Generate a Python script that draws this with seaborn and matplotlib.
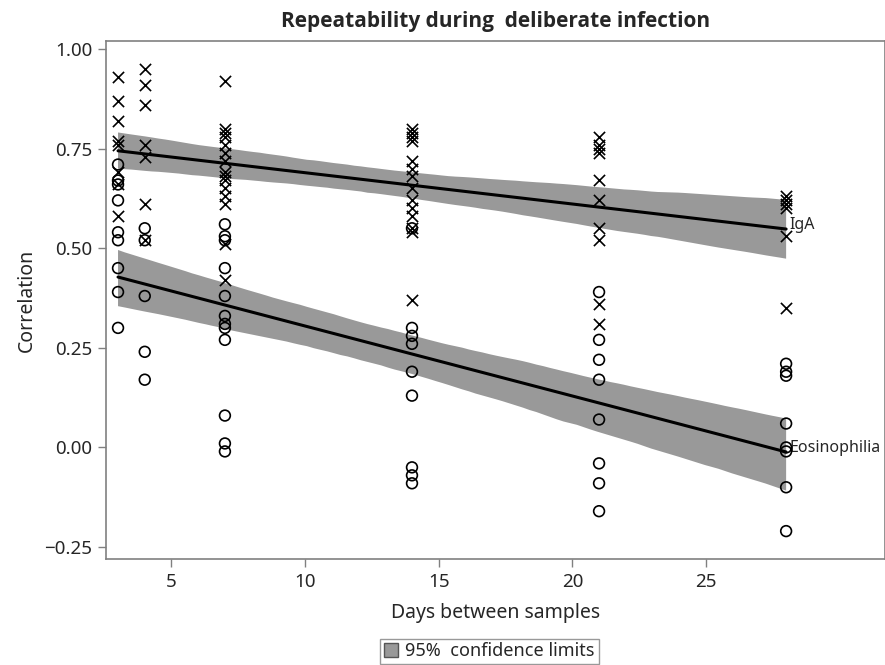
import numpy as np
import pandas as pd
import seaborn as sns
import matplotlib.pyplot as plt
from matplotlib.patches import Patch

# valores: correlacion por dias entre muestras
dias = [3, 4, 7, 14, 21, 28]
iga = {
    3: [0.93, 0.87, 0.82, 0.77, 0.76, 0.69, 0.66, 0.58],
    4: [0.95, 0.91, 0.86, 0.76, 0.73, 0.61, 0.52],
    7: [0.92, 0.80, 0.79, 0.78, 0.76, 0.74, 0.72, 0.69, 0.68, 0.67, 0.65, 0.63, 0.61, 0.51, 0.42],
    14: [0.80, 0.79, 0.78, 0.77, 0.72, 0.70, 0.68, 0.65, 0.62, 0.60, 0.58, 0.55, 0.54, 0.37],
    21: [0.78, 0.76, 0.75, 0.74, 0.67, 0.62, 0.55, 0.52, 0.36, 0.31],
    28: [0.63, 0.62, 0.61, 0.60, 0.53, 0.35],
}
eos = {
    3: [0.71, 0.67, 0.66, 0.62, 0.54, 0.52, 0.45, 0.39, 0.30],
    4: [0.55, 0.52, 0.38, 0.24, 0.17],
    7: [0.56, 0.53, 0.52, 0.45, 0.38, 0.33, 0.31, 0.30, 0.27, 0.08, 0.01, -0.01],
    14: [0.55, 0.30, 0.28, 0.26, 0.19, 0.13, -0.05, -0.07, -0.09],
    21: [0.39, 0.27, 0.22, 0.17, 0.07, -0.04, -0.09, -0.16],
    28: [0.21, 0.19, 0.18, 0.06, 0.00, -0.01, -0.10, -0.21],
}
xticks = [5, 10, 15, 20, 25]
yticks = [-0.25, 0.0, 0.25, 0.5, 0.75, 1.0]


def a_tabla(d):
    filas = [(k, v) for k in dias for v in d[k]]
    return pd.DataFrame(filas, columns=['dias', 'corr'])


df_iga = a_tabla(iga)
df_eos = a_tabla(eos)

sns.set_style('white')
plt.rcParams['font.family'] = ['Noto Sans', 'DejaVu Sans']

fig = plt.figure(figsize=(8.85, 6.65), dpi=100)
ax = fig.add_axes([106 / 885, 1 - 559 / 665, 779 / 885, 518 / 665])

gris = '#999999'
for df, nombre in [(df_iga, 'IgA'), (df_eos, 'Eosinophilia')]:
    n = len(ax.collections)
    sns.regplot(data=df, x='dias', y='corr', scatter=False, ci=95, seed=1,
                color='black', line_kws={'lw': 2.2}, ax=ax)
    for c in ax.collections[n:]:
        c.set_facecolor(gris)
        c.set_alpha(1)
        c.set_edgecolor('none')
    linea = ax.lines[-1]
    xs, ys = linea.get_data()
    ax.text(xs[-1] + 0.12, ys[-1] + 0.01, nombre, fontsize=11.5, va='center', ha='left')

sns.scatterplot(data=df_iga, x='dias', y='corr', marker='x', color='black',
                s=65, linewidth=1.2, ax=ax, zorder=5)
sns.scatterplot(data=df_eos, x='dias', y='corr', marker='o', facecolor='none',
                edgecolor='black', s=60, linewidth=1.2, ax=ax, zorder=5)

ax.set_xlim(2.55, 31.7)
ax.set_ylim(-0.28, 1.02)
ax.set_xticks(xticks)
ax.set_yticks(yticks)
ax.set_yticklabels([f'{v:.2f}'.replace('-', '\u2212') for v in yticks])
ax.tick_params(axis='both', direction='out', length=6, width=1, color='#808080',
               labelsize=13.5, left=True, bottom=True, pad=4)
for s in ax.spines.values():
    s.set_color('#808080')
    s.set_linewidth(1.2)
ax.set_xlabel('Days between samples', fontsize=14, labelpad=9)
ax.set_ylabel('Correlation', fontsize=14, labelpad=5)
ax.set_title('Repeatability during  deliberate infection', fontsize=15,
             fontweight='bold', family=['Open Sans', 'DejaVu Sans'], pad=10)

fig.legend(handles=[Patch(facecolor=gris, edgecolor='#555555', label='95%  confidence limits')],
           loc='lower center', bbox_to_anchor=(0.553, -0.012), fontsize=13,
           frameon=True, fancybox=False, edgecolor='#808080', handlelength=0.8,
           handleheight=0.8, handletextpad=0.4, borderpad=0.2)

fig.savefig('out.png', dpi=100)
